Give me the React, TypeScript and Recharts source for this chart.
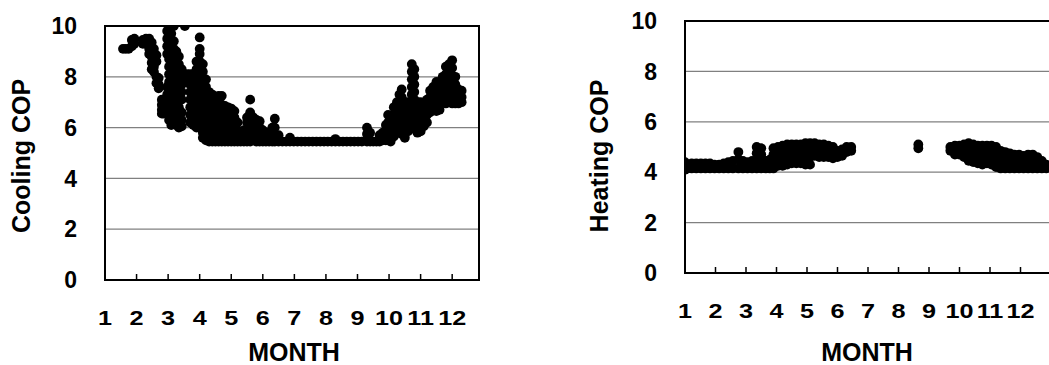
import { ScatterChart, Scatter, XAxis, YAxis, CartesianGrid, ReferenceArea, Label } from 'recharts'

const monthTicks = [1, 2, 3, 4, 5, 6, 7, 8, 9, 10, 11, 12]
const innerTicks = [2, 3, 4, 5, 6, 7, 8, 9, 10, 11, 12]
const copTicks = [0, 2, 4, 6, 8, 10]

// each row: month position on the axis, then the COP values at that month
type Column = [number, number[]]

const coolingWinter: Column[] = [
  [1.57, [9.1]],
  [1.66, [9.1]],
  [1.75, [9.1]],
  [1.85, [9.45, 9.2]],
  [1.93, [9.5, 9.3]],
  [2.2, [9.45, 9.3]],
  [2.3, [9.5, 9.3]],
  [2.4, [9.5, 9.3, 9.1, 8.9]],
  [2.48, [9.35, 9.05, 8.8, 8.55, 8.3]],
  [2.55, [9.1, 8.8, 8.6, 8.4, 8.2]],
  [2.63, [8.85, 8.6, 8.0, 7.75]],
  [2.7, [7.95, 7.7, 7.55]],
  [2.8, [7.1, 6.9, 6.7, 6.55]],
  [2.85, [7.0, 6.75, 6.55]],
]

const coolingSpring: Column[] = [
  [2.97, [9.8, 9.5, 9.2, 8.9, 7.6, 7.3, 7.0]],
  [3.03, [9.9, 9.6, 9.3, 9.0, 8.7, 8.4, 8.1, 7.8, 7.5, 7.2, 6.9, 6.6, 6.3]],
  [3.1, [10.0, 9.7, 9.4, 9.1, 8.8, 8.5, 7.9, 7.6, 7.2, 6.9, 6.6, 6.3, 6.1]],
  [3.18, [10.0, 9.4, 9.1, 8.8, 8.5, 8.2, 7.9, 7.6, 7.3, 7.0, 6.7, 6.4, 6.2]],
  [3.26, [9.0, 8.7, 8.4, 8.1, 7.8, 7.5, 7.2, 6.9, 6.6, 6.3, 6.1]],
  [3.34, [8.8, 8.5, 8.2, 7.9, 7.6, 7.3, 6.8, 6.5, 6.2, 6.0]],
  [3.43, [8.3, 8.0, 7.7, 7.4, 7.1, 6.6, 6.3, 6.05]],
  [3.53, [10.0]],
  [3.6, [8.1, 7.9]],
  [3.7, [8.1, 8.0, 7.7, 7.4, 7.1, 6.8, 6.5, 6.2]],
  [3.8, [8.1, 7.9, 7.6, 7.3, 7.0, 6.7, 6.4, 6.1]],
  [3.9, [8.6, 8.3, 8.0, 7.7, 7.4, 7.1, 6.8, 6.5, 6.2, 6.0]],
  [4.0, [9.55, 9.1, 8.9, 8.6, 8.3, 8.0, 7.7, 7.4, 7.1, 6.8, 6.5, 6.2, 6.0]],
  [4.1, [8.5, 8.2, 7.9, 7.6, 7.3, 7.0, 6.7, 6.4, 6.1, 5.8, 5.6]],
  [4.2, [7.9, 7.6, 7.3, 7.0, 6.7, 6.4, 6.1, 5.8, 5.5]],
  [4.3, [7.4, 7.1, 6.8, 6.5, 6.2, 5.9, 5.65, 5.45]],
  [4.4, [7.3, 7.0, 6.7, 6.4, 6.1, 5.8, 5.55, 5.45]],
  [4.5, [7.2, 6.9, 6.6, 6.3, 6.0, 5.7, 5.45]],
  [4.6, [7.25, 7.0, 6.7, 6.4, 6.1, 5.8, 5.55, 5.45]],
  [4.7, [7.25, 6.9, 6.6, 6.3, 6.0, 5.7, 5.45]],
  [4.8, [6.85, 6.6, 6.3, 6.0, 5.7, 5.45]],
  [4.9, [6.8, 6.5, 6.2, 5.9, 5.65, 5.45]],
  [5.0, [6.75, 6.5, 6.2, 5.9, 5.65, 5.45]],
  [5.1, [6.65, 6.4, 6.1, 5.8, 5.55, 5.45]],
  [5.2, [6.2, 5.9, 5.65, 5.45]],
  [5.3, [5.8, 5.6, 5.45]],
  [5.4, [5.9, 5.65, 5.45]],
  [5.5, [6.4, 6.2, 5.9, 5.65, 5.45]],
  [5.6, [7.1, 6.6, 6.3, 6.0, 5.7, 5.45]],
  [5.7, [6.4, 6.1, 5.8, 5.5]],
  [5.8, [6.3, 6.0, 5.7, 5.45]],
  [5.9, [6.25, 6.0, 5.7, 5.45]],
  [6.0, [5.9, 5.65, 5.45]],
  [6.1, [5.8, 5.55, 5.45]],
  [6.2, [5.7, 5.45]],
  [6.3, [6.0, 5.7, 5.45]],
  [6.38, [6.35, 6.0, 5.7, 5.45]],
  [6.5, [5.7, 5.45]],
]

const coolingSummer: Column[] = [
  [6.62, [5.45]],
  [6.74, [5.45]],
  [6.86, [5.6, 5.45]],
  [6.98, [5.45]],
  [7.1, [5.45]],
  [7.22, [5.45]],
  [7.34, [5.45]],
  [7.46, [5.45]],
  [7.58, [5.45]],
  [7.7, [5.45]],
  [7.82, [5.45]],
  [7.94, [5.45]],
  [8.06, [5.45]],
  [8.18, [5.45]],
  [8.3, [5.55, 5.45]],
  [8.42, [5.45]],
  [8.54, [5.45]],
  [8.66, [5.45]],
  [8.78, [5.45]],
  [8.9, [5.45]],
  [9.02, [5.45]],
  [9.14, [5.45]],
]

const coolingAutumn: Column[] = [
  [9.3, [6.0, 5.75, 5.45]],
  [9.4, [5.8, 5.45]],
  [9.5, [5.45]],
  [9.6, [5.45]],
  [9.7, [5.7, 5.45]],
  [9.8, [5.8, 5.5]],
  [9.9, [6.1, 5.8, 5.5]],
  [9.97, [6.5, 6.2, 5.9, 5.6]],
  [10.05, [6.3, 6.0, 5.7, 5.45]],
  [10.15, [6.8, 6.5, 6.2, 5.9, 5.65]],
  [10.25, [7.0, 6.7, 6.4, 6.1, 5.85]],
  [10.33, [7.3, 7.0, 6.7, 6.4, 6.1]],
  [10.4, [7.5, 7.2, 6.9, 6.6, 6.3, 6.0, 5.75]],
  [10.5, [7.0, 6.7, 6.4, 6.1, 5.8, 5.6]],
  [10.6, [7.0, 6.7, 6.4, 6.1, 5.85]],
  [10.72, [8.5, 8.2, 7.9, 7.6, 7.3, 7.0, 6.7, 6.4, 6.1]],
  [10.8, [8.3, 8.0, 7.7, 7.4, 7.1, 6.8, 6.5, 6.2, 5.95]],
  [10.9, [7.0, 6.7, 6.4, 6.1, 5.8]],
  [11.0, [7.0, 6.7, 6.4, 6.1, 5.85]],
  [11.1, [6.9, 6.6, 6.3, 6.05]],
  [11.2, [7.1, 6.8, 6.5, 6.2]],
  [11.3, [7.45, 7.2, 6.9, 6.6]],
  [11.4, [7.6, 7.3, 7.0, 6.7]],
  [11.5, [7.8, 7.5, 7.2, 6.9, 6.65]],
  [11.6, [7.8, 7.5, 7.2, 6.9, 6.7]],
  [11.7, [8.0, 7.7, 7.4, 7.1]],
  [11.8, [8.4, 8.1, 7.8, 7.5, 7.2, 6.95]],
  [11.9, [8.5, 8.2, 7.9, 7.6, 7.3, 7.0]],
  [12.0, [8.65, 8.35, 8.05, 7.75, 7.45, 7.15, 6.95]],
  [12.1, [8.0, 7.7, 7.4, 7.1, 6.95]],
  [12.2, [7.5, 7.2, 6.95]],
  [12.3, [7.45, 7.2, 7.0]],
]

const heatingWinter: Column[] = [
  [1.0, [4.4, 4.2, 4.1]],
  [1.08, [4.3, 4.15]],
  [1.22, [4.35, 4.15]],
  [1.37, [4.35, 4.15]],
  [1.52, [4.35, 4.15]],
  [1.67, [4.35, 4.15]],
  [1.82, [4.35, 4.15]],
  [1.97, [4.3, 4.15]],
  [2.12, [4.3, 4.15]],
  [2.27, [4.35, 4.15]],
  [2.42, [4.4, 4.15]],
  [2.57, [4.45, 4.15]],
  [2.75, [4.8, 4.5, 4.15]],
  [2.9, [4.45, 4.15]],
  [3.05, [4.4, 4.15]],
  [3.2, [4.45, 4.15]],
  [3.35, [5.0, 4.75, 4.45, 4.15]],
  [3.5, [4.95, 4.7, 4.4, 4.15]],
  [3.65, [4.45, 4.15]],
  [3.78, [4.5, 4.15]],
]

const heatingSpring: Column[] = [
  [3.9, [4.95, 4.7, 4.4, 4.15]],
  [4.05, [5.0, 4.75, 4.5, 4.25]],
  [4.2, [5.05, 4.8, 4.55, 4.25]],
  [4.35, [5.1, 4.85, 4.6, 4.3]],
  [4.5, [5.1, 4.85, 4.6, 4.35]],
  [4.65, [5.1, 4.85, 4.6, 4.35]],
  [4.8, [5.1, 4.85, 4.6, 4.35]],
  [4.95, [5.15, 4.9, 4.6, 4.3]],
  [5.1, [5.15, 4.9, 4.6, 4.3]],
  [5.25, [5.15, 4.9, 4.65]],
  [5.4, [5.1, 4.85, 4.6]],
  [5.55, [5.1, 4.85, 4.6]],
  [5.7, [5.05, 4.8, 4.6]],
  [5.85, [5.0, 4.75, 4.55]],
  [6.0, [4.85, 4.6]],
  [6.15, [4.9, 4.65]],
  [6.3, [5.0, 4.8]],
  [6.45, [5.0, 4.85]],
  [8.65, [5.1, 4.95]],
]

const heatingAutumn: Column[] = [
  [9.7, [5.0, 4.85]],
  [9.85, [5.05, 4.8, 4.7]],
  [10.0, [5.05, 4.8, 4.7]],
  [10.15, [5.1, 4.85, 4.6]],
  [10.3, [5.15, 4.9, 4.65, 4.45]],
  [10.45, [5.1, 4.85, 4.6, 4.4]],
  [10.6, [5.05, 4.8, 4.55, 4.35]],
  [10.75, [5.05, 4.8, 4.55, 4.3]],
  [10.9, [5.05, 4.8, 4.55, 4.35]],
  [11.05, [5.05, 4.8, 4.55, 4.3]],
  [11.2, [5.0, 4.75, 4.5, 4.2]],
  [11.35, [4.85, 4.6, 4.35, 4.15]],
  [11.5, [4.8, 4.55, 4.3, 4.15]],
  [11.65, [4.75, 4.5, 4.25, 4.15]],
  [11.8, [4.7, 4.45, 4.15]],
  [11.95, [4.7, 4.45, 4.15]],
  [12.1, [4.65, 4.4, 4.15]],
  [12.25, [4.7, 4.4, 4.15]],
  [12.4, [4.7, 4.4, 4.15]],
  [12.55, [4.6, 4.35, 4.15]],
  [12.7, [4.45, 4.15]],
  [12.85, [4.3, 4.15]],
]

const toPoints = (cols: Column[]) =>
  cols.flatMap(([month, cops]) => cops.map((cop) => ({ month, cop })))

const coolingData = [coolingWinter, coolingSpring, coolingSummer, coolingAutumn].flatMap(toPoints)
const heatingData = [heatingWinter, heatingSpring, heatingAutumn].flatMap(toPoints)
// month marks sitting on the bottom border
const tickMarks = innerTicks.map((month) => ({ month, cop: 0 }))

const FONT = '"Liberation Sans", Arial, sans-serif'

const Dot = (props: any) => <circle cx={props.cx} cy={props.cy} r={4.9} fill="#000" />
const TickMark = (props: any) => (
  <line x1={props.cx} x2={props.cx} y1={props.cy} y2={props.cy - 6} stroke="#000" strokeWidth={1.5} />
)

const renderMonthTick = (props: any) => {
  const { x, y, payload } = props
  return (
    <text transform={`translate(${x} ${y}) scale(1.2 1)`} dy="0.71em" textAnchor="middle"
      fontSize={21} fontWeight={700} fill="#000" fontFamily={FONT}>
      {payload.value}
    </text>
  )
}

const rotatedTitle = (text: string, cx: number, cy: number) => () => (
  <text x={cx} y={cy} dy="0.36em" transform={`rotate(-90 ${cx} ${cy})`} textAnchor="middle"
    fontSize={25} fontWeight={700} fill="#000" fontFamily={FONT}>
    {text}
  </text>
)

const flatTitle = (text: string, cx: number, cy: number) => () => (
  <text x={cx} y={cy} dy="0.36em" textAnchor="middle" fontSize={25} fontWeight={700} fill="#000" fontFamily={FONT}>
    {text}
  </text>
)

interface CopChartProps {
  data: { month: number; cop: number }[]
  title: string
  width: number
  yAxisWidth: number
  top: number
  right: number
  xAxisHeight: number
  maxMonth: number
  titleX: number
  monthX: number
}

function CopChart({ data, title, width, yAxisWidth, top, right, xAxisHeight, maxMonth, titleX, monthX }: CopChartProps) {
  return (
    <ScatterChart width={width} height={365} margin={{ top, right, bottom: 0, left: 0 }}>
      <CartesianGrid vertical={false} stroke="#808080" strokeWidth={1.2} />
      <XAxis type="number" dataKey="month" domain={[1, maxMonth]} ticks={monthTicks} allowDataOverflow
        axisLine={false} tickLine={false} tickSize={0} tickMargin={30} height={xAxisHeight}
        tick={renderMonthTick} interval={0}>
        <Label content={flatTitle('MONTH', monthX, 352)} />
      </XAxis>
      <YAxis type="number" dataKey="cop" domain={[0, 10]} ticks={copTicks} allowDataOverflow
        axisLine={false} tickLine={false} tickSize={0} tickMargin={28} width={yAxisWidth}
        tick={{ fill: '#000', fontSize: 23, fontWeight: 700, fontFamily: FONT }}>
        <Label content={rotatedTitle(title, titleX, 156)} />
      </YAxis>
      <ReferenceArea x1={1} x2={maxMonth} y1={0} y2={10} fill="none" stroke="#000" strokeWidth={2} fillOpacity={0} ifOverflow="visible" />
      <Scatter data={tickMarks} shape={<TickMark />} isAnimationActive={false} />
      <Scatter data={data} shape={<Dot />} isAnimationActive={false} />
    </ScatterChart>
  )
}

export default function App() {
  return (
    <div style={{ position: 'absolute', left: 0, top: 0, width: 1049, height: 365, overflow: 'hidden', background: '#fff', fontFamily: FONT }}>
      <div style={{ position: 'absolute', left: 0, top: 0 }}>
        <CopChart data={coolingData} title="Cooling COP" width={520} yAxisWidth={105} top={26} right={41}
          xAxisHeight={85} maxMonth={12.85} titleX={21} monthX={294} />
      </div>
      <div style={{ position: 'absolute', left: 520, top: 0 }}>
        <CopChart data={heatingData} title="Heating COP" width={540} yAxisWidth={165} top={21} right={9}
          xAxisHeight={92} maxMonth={13} titleX={79} monthX={347} />
      </div>
    </div>
  )
}
